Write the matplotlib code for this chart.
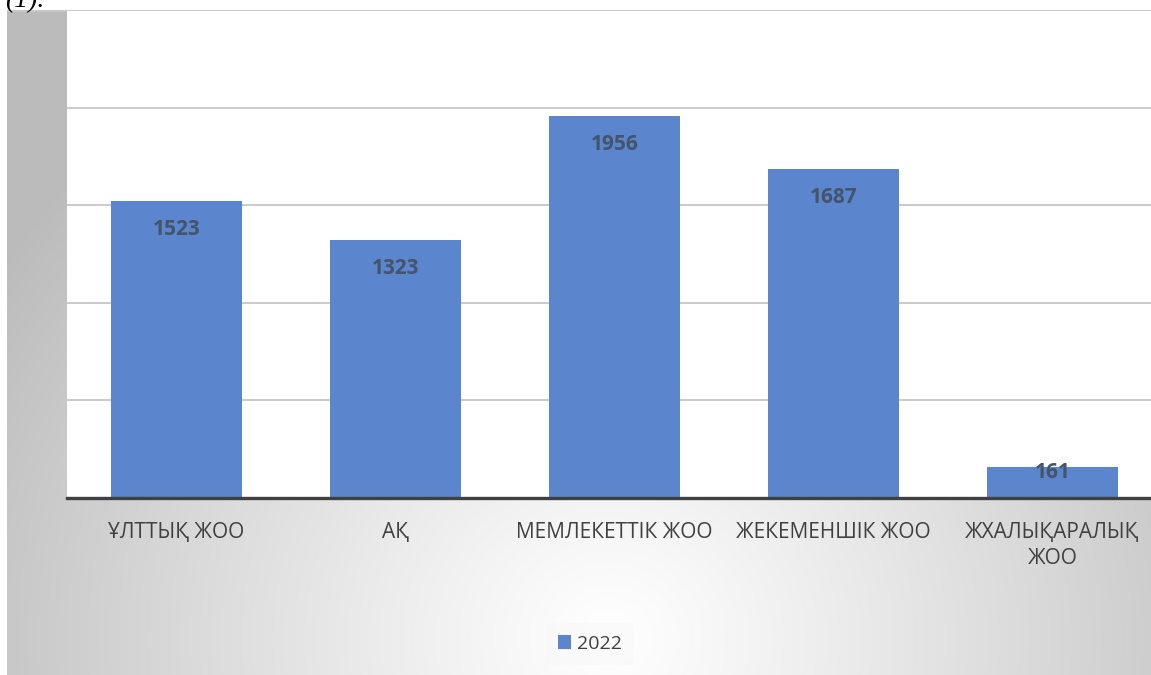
import numpy as np
import matplotlib
matplotlib.use("Agg")
import matplotlib.pyplot as plt

categories = ["ҰЛТТЫҚ ЖОО", "АҚ", "МЕМЛЕКЕТТІК ЖОО", "ЖЕКЕМЕНШІК ЖОО", "ЖХАЛЫҚАРАЛЫҚ\nЖОО"]
values_2022 = [1523, 1323, 1956, 1687, 161]
series_name = "2022"
y_ticks = [0, 500, 1000, 1500, 2000, 2500]

plt.rcParams['font.family'] = ['Open Sans', 'DejaVu Sans']

W, H = 1151, 675
fig = plt.figure(figsize=(W / 100, H / 100), dpi=100)
fig.patch.set_facecolor('white')

# background gradient panel
bg = fig.add_axes([7 / W, 0, 1 - 7 / W, (H - 10) / H])
bg.set_axis_off()
ny, nx = 200, 400
xs = np.linspace(7, W, nx)
ys = np.linspace(10, H, ny)
X, Y = np.meshgrid(xs, ys)
d = np.sqrt(((X - 610) / 1.0) ** 2 + ((Y - 640) / 0.95) ** 2) / 690.0
v = 1.0 - 0.25 * np.clip(d, 0, 1.05) ** 1.1
img = np.dstack([v, v, v])
bg.imshow(img, extent=[0, 1, 0, 1], aspect='auto', origin='upper', zorder=0)
bg.set_xlim(0, 1)
bg.set_ylim(0, 1)
bg.axhline(1 - 1 / (H - 10), color='#c8c8c8', lw=1.4, zorder=2)

# main axes
ax = fig.add_axes([67 / W, (H - 498) / H, 1095 / W, (498 - 10) / H])
ax.set_facecolor('white')
x = np.arange(len(categories))
bars = ax.bar(x, values_2022, width=0.6, color='#5b85cc', zorder=3, label=series_name)
ax.set_xlim(-0.5, len(categories) - 0.5)
ax.set_ylim(0, 2500)
ax.set_yticks(y_ticks)
ax.yaxis.grid(True, color='#cacaca', lw=1.4, zorder=0)
ax.set_axisbelow(True)
ax.tick_params(axis='y', left=False, labelleft=False)
ax.tick_params(axis='x', length=0, pad=17, labelsize=15, labelcolor='#404040')
ax.set_xticks(x)
ax.set_xticklabels(categories)
for lab in ax.get_xticklabels():
    lab.set_linespacing(1.35)
for s in ['top', 'left', 'right']:
    ax.spines[s].set_visible(False)
ax.spines['bottom'].set_color('#404040')
ax.spines['bottom'].set_linewidth(2.4)
ax.spines['bottom'].set_zorder(4)

for xi, val in zip(x, values_2022):
    off = -20.5 if val > 300 else -4.5
    ax.annotate(f"{val}", (xi, val), xytext=(0, off), textcoords='offset points',
                ha='center', va='center', fontsize=15, fontweight='bold',
                color='#44546a', zorder=5)

leg = fig.legend(handles=[bars], labels=[series_name], loc='center',
                 bbox_to_anchor=(590 / W, 1 - 644 / H), frameon=True,
                 handlelength=0.7, handleheight=0.7, handletextpad=0.3,
                 fontsize=14, borderpad=0.6)
leg.get_frame().set_facecolor('#f8f8f8')
leg.get_frame().set_edgecolor('none')
leg.get_frame().set_alpha(0.6)
for t in leg.get_texts():
    t.set_color('#404040')

fig.text(5 / W, 1 - 7 / H, "(1).", fontsize=20, style='italic',
         family=['Liberation Serif', 'DejaVu Serif'], va='baseline', ha='left')

fig.savefig("out.png", dpi=100)
